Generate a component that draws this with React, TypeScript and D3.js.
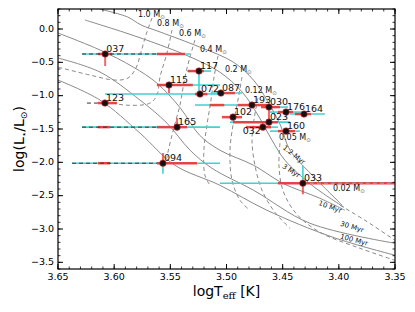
import React from 'react';
import * as d3 from 'd3';

// axis ticks
const xTicks = [3.65, 3.6, 3.55, 3.5, 3.45, 3.4, 3.35];
const yTicks = [0, -0.5, -1, -1.5, -2, -2.5, -3, -3.5];

// isochrones [logTeff, logL]
const isoNames = ['1.2 Myr', '3 Myr', '10 Myr', '30 Myr', '100 Myr'];
const iso1 = [[3.613, 0.30], [3.588, 0.18], [3.576, 0.06], [3.559, -0.045], [3.524, -0.27], [3.494, -0.496], [3.476, -0.766], [3.464, -1.066], [3.452, -1.442], [3.4435, -1.817], [3.421, -2.238], [3.397, -2.643]];
const iso3 = [[3.626, 0.135], [3.5895, -0.06], [3.559, -0.24], [3.53, -0.436], [3.506, -0.646], [3.486, -0.946], [3.472, -1.292], [3.4595, -1.667], [3.448, -1.968], [3.424, -2.343], [3.3955, -2.673]];
const iso10 = [[3.65, -0.06], [3.6126, -0.315], [3.583, -0.571], [3.562, -0.811], [3.541, -1.187], [3.524, -1.592], [3.506, -1.817], [3.476, -2.043], [3.45, -2.313], [3.417, -2.538], [3.3946, -2.719]];
const iso30 = [[3.65, -0.435], [3.6126, -0.646], [3.577, -1.066], [3.553, -1.412], [3.5325, -1.817], [3.513, -2.088], [3.476, -2.418], [3.4257, -2.914], [3.35, -3.214]];
const iso100 = [[3.65, -0.766], [3.6126, -1.066], [3.577, -1.562], [3.546, -2.043], [3.506, -2.343], [3.464, -2.719], [3.4053, -3.124], [3.35, -3.394]];
const isochrones = [iso1, iso3, iso10, iso30, iso100];
// label centre [logTeff, logL, rotation]
const isoLabelPos = [[3.44, -1.892, 38], [3.4426, -2.133, 33], [3.4079, -2.673, 20], [3.3883, -2.974, 17], [3.3865, -3.169, 15]];

// mass tracks
const massNames = ['1.0', '0.8', '0.6', '0.4', '0.2', '0.12', '0.05', '0.02'];
const m10 = [[3.5663, 0.165], [3.5717, -0.09], [3.5761, -0.345], [3.5806, -0.586], [3.5877, -0.736], [3.5993, -0.766], [3.6215, -0.691], [3.65, -0.571]];
const m08 = [[3.5485, -0.015], [3.553, -0.36], [3.5592, -0.721], [3.5619, -0.991], [3.5681, -1.111], [3.5904, -1.141], [3.6082, -1.081]];
const m06 = [[3.5281, -0.165], [3.5325, -0.42], [3.537, -0.721], [3.5414, -1.141], [3.545, -1.367], [3.5485, -1.592], [3.5521, -1.847], [3.553, -1.937]];
const m04 = [[3.5076, -0.405], [3.5112, -0.736], [3.5138, -1.066], [3.5174, -1.442], [3.5201, -1.817], [3.5192, -2.193], [3.5147, -2.343]];
const m02 = [[3.4862, -0.721], [3.4898, -1.066], [3.4942, -1.442], [3.4969, -1.817], [3.4951, -2.268], [3.488, -2.568], [3.4791, -2.719]];
const m012 = [[3.472, -1.036], [3.4756, -1.367], [3.4773, -1.667], [3.4747, -2.043], [3.4684, -2.418], [3.4569, -2.749], [3.4435, -2.989]];
const m005 = [[3.4524, -1.712], [3.4533, -2.043], [3.4498, -2.418], [3.4382, -2.764], [3.4168, -3.049], [3.3812, -3.289], [3.35, -3.47]];
const m002 = [[3.399, -2.643], [3.3768, -2.869], [3.35, -3.169]];
const tracks = [m10, m08, m06, m04, m02, m012, m005, m002];
// label start [logTeff, logL baseline]
const massLabelPos = [[3.5788, 0.18], [3.5619, 0.045], [3.5423, -0.105], [3.5236, -0.345], [3.5014, -0.646], [3.4836, -0.961], [3.4533, -1.667], [3.4053, -2.433]];

// stars
const starIds = ['037', '115', '117', '072', '087', '102', '193', '030', '023', '176', '164', '032', '160', '123', '165', '094', '033'];
const starTeff = [3.608, 3.5512, 3.5245, 3.5236, 3.505, 3.4942, 3.4773, 3.4622, 3.4622, 3.447, 3.431, 3.4676, 3.447, 3.6082, 3.544, 3.5566, 3.432];
const starLum = [-0.375, -0.84, -0.631, -0.976, -0.961, -1.322, -1.141, -1.171, -1.397, -1.246, -1.276, -1.472, -1.532, -1.111, -1.472, -2.013, -2.313];
const cyanRange = [
  [3.6286, 3.5325], [3.5592, 3.5058], [3.5352, 3.5138], [3.6082, 3.5076], [3.514, 3.486], null,
  [3.5281, 3.4613], [3.4658, 3.4453], [3.4969, 3.4435], [3.4613, 3.4337], [3.4435, 3.4124],
  [3.4791, 3.4542], [3.4613, 3.4346], null, [3.6286, 3.5058], [3.6375, 3.5058], [3.5058, 3.35],
];
const redRanges = [
  [[3.6144, 3.6019], [3.5619, 3.537]], [[3.562, 3.53]], [[3.5343, 3.5201]], [[3.5281, 3.517]], [[3.5085, 3.4925]],
  [[3.5041, 3.4862]], [[3.515, 3.502], [3.49, 3.464]], [[3.4693, 3.4524]], [[3.4942, 3.4542]], [[3.4542, 3.4408]],
  [[3.4391, 3.4248]], [[3.4827, 3.4604]], [[3.4542, 3.4391]], [[3.6144, 3.5975]],
  [[3.6144, 3.6037], [3.5619, 3.5352]], [[3.6144, 3.6037], [3.5619, 3.5263]], [[3.4542, 3.35]],
];
const dashRange = [[3.6286, 3.5619], null, null, null, null, null, null, null, null, null, null, null, null, [3.6242, 3.6082], [3.6286, 3.5619], [3.6375, 3.5619], [3.432, 3.35]];
const dashColor = ['#333', '', '', '', '', '', '', '', '', '', '', '', '', '#333', '#333', '#333', '#43d1d1'];
const vRed = [[-0.375, -0.555], [-0.84, -0.96], null, null, null, null, null, [-1.171, -1.396], null, null, null, null, null, null, [-1.472, -1.337], [-2.013, -1.86], [-2.313, -2.48]];
const vCyan = [null, null, [-0.631, -0.96], null, null, null, null, null, null, null, null, null, null, null, null, [-1.95, -2.17], [-2.05, -2.313]];

const RED = '#ee3535';
const CYAN = '#43d1d1';
const GRAY = '#8a8a8a';
const FONT = 'DejaVu Sans, sans-serif';

const x = d3.scaleLinear().domain([3.65, 3.35]).range([58, 395]);
const y = d3.scaleLinear().domain([-3.6, 0.3]).range([269, 9]);

const line = d3.line<number[]>()
  .x(d => x(d[0]))
  .y(d => y(d[1]))
  .curve(d3.curveCatmullRom.alpha(0.5));

const fmtX = (v: number) => v.toFixed(2);
const fmtY = (v: number) => (v < 0 ? '\u2212' : '') + Math.abs(v).toFixed(1);

export default function App() {
  const [x0, x1] = x.range();
  const [y0, y1] = [y(0.3), y(-3.6)];
  const xMinor = d3.range(0, 31).map(i => 3.35 + i * 0.01);
  const yMinor = d3.range(0, 40).map(i => -3.6 + i * 0.1);

  return (
    <svg width={415} height={312} style={{ position: 'absolute', left: 0, top: 0, background: '#fff' }} fontFamily={FONT}>
      <defs>
        <clipPath id="plot">
          <rect x={x0} y={y0} width={x1 - x0} height={y1 - y0} />
        </clipPath>
      </defs>

      <g clipPath="url(#plot)">
        {isochrones.map((d, i) => (
          <path key={'iso' + i} d={line(d) || ''} fill="none" stroke={GRAY} strokeWidth={1} />
        ))}
        {tracks.map((d, i) => (
          <path key={'trk' + i} d={line(d) || ''} fill="none" stroke={GRAY} strokeWidth={1} strokeDasharray="4,3" />
        ))}

        {starIds.map((id, i) => {
          const cy = y(starLum[i]);
          const cx = x(starTeff[i]);
          const c = cyanRange[i];
          const dr = dashRange[i];
          const vr = vRed[i];
          const vc = vCyan[i];
          return (
            <g key={id}>
              {c && <line x1={x(c[0])} x2={x(c[1])} y1={cy} y2={cy} stroke={CYAN} strokeWidth={1.6} />}
              {vc && <line x1={cx} x2={cx} y1={y(vc[0])} y2={y(vc[1])} stroke={CYAN} strokeWidth={1.6} />}
              {redRanges[i].map((r, j) => (
                <line key={j} x1={x(r[0])} x2={x(r[1])} y1={cy} y2={cy} stroke={RED} strokeWidth={2.5} opacity={0.9} />
              ))}
              {vr && <line x1={cx} x2={cx} y1={y(vr[0])} y2={y(vr[1])} stroke={RED} strokeWidth={2} opacity={0.75} />}
              {dr && <line x1={x(dr[0])} x2={x(dr[1])} y1={cy} y2={cy} stroke={dashColor[i]} strokeWidth={1} strokeDasharray="4,3" />}
              <circle cx={cx} cy={cy} r={3.3} fill="#111" stroke={RED} strokeWidth={0.6} />
            </g>
          );
        })}
      </g>

      {/* star labels */}
      {starIds.map((id, i) => {
        const left = id === '032';
        return (
          <text key={'lab' + id} x={x(starTeff[i]) + (left ? -2 : 1)} y={y(starLum[i]) + (left ? 7 : -2)}
            textAnchor={left ? 'end' : 'start'} fontSize={9.5} fill="#111">{id}</text>
        );
      })}

      {/* mass labels */}
      {massNames.map((m, i) => (
        <text key={'m' + m} x={x(massLabelPos[i][0])} y={y(massLabelPos[i][1])} fontSize={8} fill="#111">
          {m} M<tspan fontSize={5.5} dy={2} fill="#666">{'\u2299'}</tspan>
        </text>
      ))}

      {/* isochrone labels */}
      {isoNames.map((n, i) => {
        const p = isoLabelPos[i];
        return (
          <text key={n} transform={`translate(${x(p[0])},${y(p[1])}) rotate(${p[2]})`} textAnchor="middle"
            dominantBaseline="middle" fontSize={7} fill="#111">{n}</text>
        );
      })}

      {/* frame */}
      <rect x={x0} y={y0} width={x1 - x0} height={y1 - y0} fill="none" stroke="#000" strokeWidth={1.2} />

      {/* ticks */}
      {xMinor.map((t, i) => (
        <g key={'xm' + i} stroke="#000" strokeWidth={0.8}>
          <line x1={x(t)} x2={x(t)} y1={y1} y2={y1 - 2.5} />
          <line x1={x(t)} x2={x(t)} y1={y0} y2={y0 + 2.5} />
        </g>
      ))}
      {yMinor.map((t, i) => (
        <g key={'ym' + i} stroke="#000" strokeWidth={0.8}>
          <line x1={x0} x2={x0 + 2.5} y1={y(t)} y2={y(t)} />
          <line x1={x1} x2={x1 - 2.5} y1={y(t)} y2={y(t)} />
        </g>
      ))}
      {xTicks.map(t => (
        <g key={'xt' + t}>
          <line x1={x(t)} x2={x(t)} y1={y1} y2={y1 - 5} stroke="#000" strokeWidth={1} />
          <line x1={x(t)} x2={x(t)} y1={y0} y2={y0 + 5} stroke="#000" strokeWidth={1} />
          <text x={x(t)} y={y1 + 11} textAnchor="middle" fontSize={9.5} fill="#000">{fmtX(t)}</text>
        </g>
      ))}
      {yTicks.map(t => (
        <g key={'yt' + t}>
          <line x1={x0} x2={x0 + 5} y1={y(t)} y2={y(t)} stroke="#000" strokeWidth={1} />
          <line x1={x1} x2={x1 - 5} y1={y(t)} y2={y(t)} stroke="#000" strokeWidth={1} />
          <text x={x0 - 4} y={y(t)} textAnchor="end" dominantBaseline="middle" fontSize={9.5} fill="#000">{fmtY(t)}</text>
        </g>
      ))}

      {/* axis labels */}
      <text x={(x0 + x1) / 2} y={296} textAnchor="middle" fontSize={14} fill="#000">
        logT<tspan fontSize={10} dy={3} fontFamily="DejaVu Serif, serif">eff</tspan><tspan dy={-3}> [K]</tspan>
      </text>
      <text transform={`translate(24,${(y0 + y1) / 2}) rotate(-90)`} textAnchor="middle" fontSize={14} fill="#000">
        log(L<tspan fontSize={9} dy={3}>{'\u22c6'}</tspan><tspan dy={-3}>/L</tspan><tspan fontSize={9} dy={3}>{'\u2299'}</tspan><tspan dy={-3}>)</tspan>
      </text>
    </svg>
  );
}
